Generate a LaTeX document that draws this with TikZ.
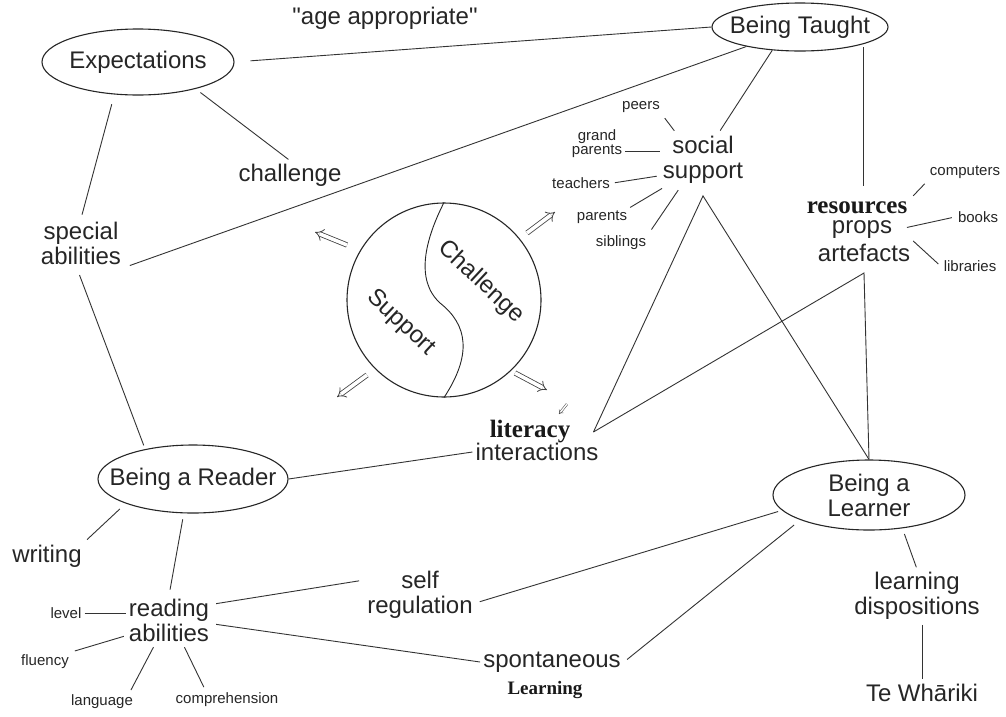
\documentclass[tikz,border=0pt]{standalone}
\usepackage{fontspec}
\setmainfont{Liberation Sans}
\newfontfamily\tnr{Liberation Serif}
\usetikzlibrary{shapes.geometric,arrows.meta,calc}
\begin{document}
\begin{tikzpicture}[x=1pt,y=-1pt,
  ink/.style={draw=black!85, line width=0.9pt},
  oval/.style={ellipse, draw=black!85, line width=1.1pt, inner sep=0pt},
  big/.style={font=\fontsize{24}{25}\selectfont, text=black!85, align=center, inner sep=3pt},
  small/.style={font=\fontsize{15}{14}\selectfont, text=black!85, align=center, inner sep=3pt},
  bserif/.style={font=\tnr\bfseries\fontsize{25}{25}\selectfont, text=black!90, inner sep=3pt},
  link/.style={draw=black!80, line width=0.9pt},
  dblarrow/.style={draw=black!75, double, double distance=3.6pt, line width=0.8pt, -{Implies}},
]
\useasboundingbox[fill=white] (0,0) rectangle (1006,716);

% ovals
\node[oval, minimum width=192pt, minimum height=66pt] (exp) at (138,62) {};
\node[big] (expt) at (exp) {Expectations};
\node[oval, minimum width=176pt, minimum height=48pt] (taught) at (800,27) {};
\node[big] (taughtt) at (taught) {Being Taught};
\node[oval, minimum width=190pt, minimum height=68pt] (reader) at (193,479) {};
\node[big] (readert) at (reader) {Being a Reader};
\node[oval, minimum width=192pt, minimum height=70pt] (learner) at (869,495) {};
\node[big] (learnert) at (learner) {Being a\\Learner};

% labels
\node[big] (age) at (385,18) {\textquotedbl age appropriate\textquotedbl};
\node[big] (chal) at (290,175) {challenge};
\node[big] (special) at (81,243) {special\\abilities};
\node[big] (social) at (703,160) {social\\support};
\node[small] (peers) at (641,107) {peers};
\node[small] (gp) at (597,144) {grand\\parents};
\node[small] (teach) at (581,183) {teachers};
\node[small] (par) at (602,217) {parents};
\node[small] (sib) at (621,243) {siblings};
\node[bserif] (res) at (857,208) {resources};
\node[big] (props) at (862,230) {props};
\node[big] (arte) at (864,253) {artefacts};
\node[small] (comp) at (965,172) {computers};
\node[small] (books) at (978,217) {books};
\node[small] (lib) at (970,266) {libraries};
\node[bserif] (lit) at (530,432) {literacy};
\node[big] (inter) at (537,452) {interactions};
\node[big] (writ) at (47,556) {writing};
\node[big] (readab) at (169,620) {reading\\abilities};
\node[small] (level) at (66,613) {level};
\node[small] (flu) at (45,662) {fluency};
\node[small] (lang) at (102,702) {language};
\node[small] (compr) at (227,700) {comprehension};
\node[big] (selfreg) at (420,595) {self\\regulation};
\node[big] (spont) at (552,662) {spontaneous};
\node[bserif, font=\tnr\bfseries\fontsize{19}{19}\selectfont] (learnw) at (545,690) {Learning};
\node[big] (learnd) at (917,596) {learning\\dispositions};
\node[big] (tew) at (922,693) {Te Whāriki};

% central circle
\node[circle, draw=black!85, line width=1.1pt, minimum size=194pt, inner sep=0pt] (c) at (444,300) {};
\draw[ink] (c.north) .. controls (425,240) and (415,280) .. (440,303) .. controls (468,325) and (472,355) .. (c.south);
\node[big, rotate=-43] (chtxt) at (481,282) {Challenge};
\node[big, rotate=-43] (sutxt) at (401,323) {Support};

\coordinate (a1s) at ([shift={(-97,-55)}]c.center);
\coordinate (a1e) at ([shift={(-129,-68)}]c.center);
\coordinate (a2s) at ([shift={(83,-67)}]c.center);
\coordinate (a2e) at ([shift={(111,-88)}]c.center);
\coordinate (a3s) at ([shift={(-77,75)}]c.center);
\coordinate (a3e) at ([shift={(-107,97)}]c.center);
\coordinate (a4s) at ([shift={(71,73)}]c.center);
\coordinate (a4e) at ([shift={(103,90)}]c.center);
\draw[dblarrow] (a1s) -- (a1e);
\draw[dblarrow] (a2s) -- (a2e);
\draw[dblarrow] (a3s) -- (a3e);
\draw[dblarrow] (a4s) -- (a4e);
\coordinate (a5s) at ([shift={(37,-28)}]lit.center);
\coordinate (a5e) at ([shift={(29,-18)}]lit.center);
\draw[draw=black!70, double, double distance=1.4pt, line width=0.5pt, -{Implies}] (a5s) -- (a5e);

% connectors
\draw[link, shorten <=16pt] (exp.east) -- (taught.west);
\draw[link, shorten <=6pt, shorten >=2pt] (exp.-25) -- (chal.north);
\draw[link, shorten <=10pt, shorten >=4pt] (exp.-126) -- (special.north);
\draw[link, shorten <=8pt, shorten >=4pt] (special.-100) -- (reader.148);
\draw[link, shorten <=6pt] (special.south east) -- (taught.200);
\draw[link, shorten >=3pt] (taught.-140) -- (social.60);
\draw[link, shorten <=3pt, shorten >=13pt] (taught.-15) -- (taught.-15 |- res.north);

\coordinate (apex) at ([yshift=-9pt]social.south);
\coordinate (v) at ([xshift=20pt]lit.east);
\coordinate (ab) at ([yshift=-8pt]arte.south);
\draw[link] (v) -- (apex) -- (learner.north);
\draw[link] (v) -- (ab) -- (learner.north);

\draw[link, shorten <=3pt, shorten >=3pt] (peers.south east) -- (social.135);
\draw[link] (gp.-15) -- (gp.-15 -| social.west);
\draw[link, shorten <=2pt, shorten >=3pt] (teach.east) -- (social.-160);
\draw[link, shorten >=3pt] (par.north east) -- (social.-145);
\draw[link, shorten <=4pt, shorten >=4pt] (sib.north east) -- (social.-130);

\draw[link, shorten <=4pt, shorten >=3pt] (res.north east) -- (comp.south west);
\draw[link, shorten <=12pt, shorten >=3pt] (props.east) -- (books.west);
\draw[link, shorten >=3pt] (arte.north east) -- (lib.west);

\draw[link] (reader.east) -- (inter.west);
\draw[link, shorten <=8pt, shorten >=3pt] (reader.-160) -- (writ.north east);
\draw[link, shorten <=6pt, shorten >=6pt] (reader.-105) -- (readab.north);

\draw[link] (level.east) -- (level.east -| readab.west);
\draw[link, shorten <=2pt, shorten >=3pt] (readab.-160) -- (flu.north east);
\draw[link, shorten <=3pt, shorten >=2pt] (readab.-120) -- (lang.20);
\draw[link, shorten <=3pt, shorten >=3pt] (readab.-60) -- (compr.155);
\draw[link, shorten <=4pt, shorten >=5pt] (readab.20) -- (selfreg.165);
\draw[link, shorten <=4pt] (readab.-5) -- (spont.west);
\draw[link, shorten <=4pt, shorten >=4pt] (selfreg.-8) -- (learner.-170);
\draw[link, shorten <=4pt, shorten >=8pt] (spont.east) -- (learner.-160);
\draw[link, shorten <=6pt, shorten >=2pt] (learner.-45) -- (learnd.north);
\draw[link, shorten <=2pt, shorten >=2pt] (learnd.south -| tew.north) -- (tew.north);
\end{tikzpicture}
\end{document}
